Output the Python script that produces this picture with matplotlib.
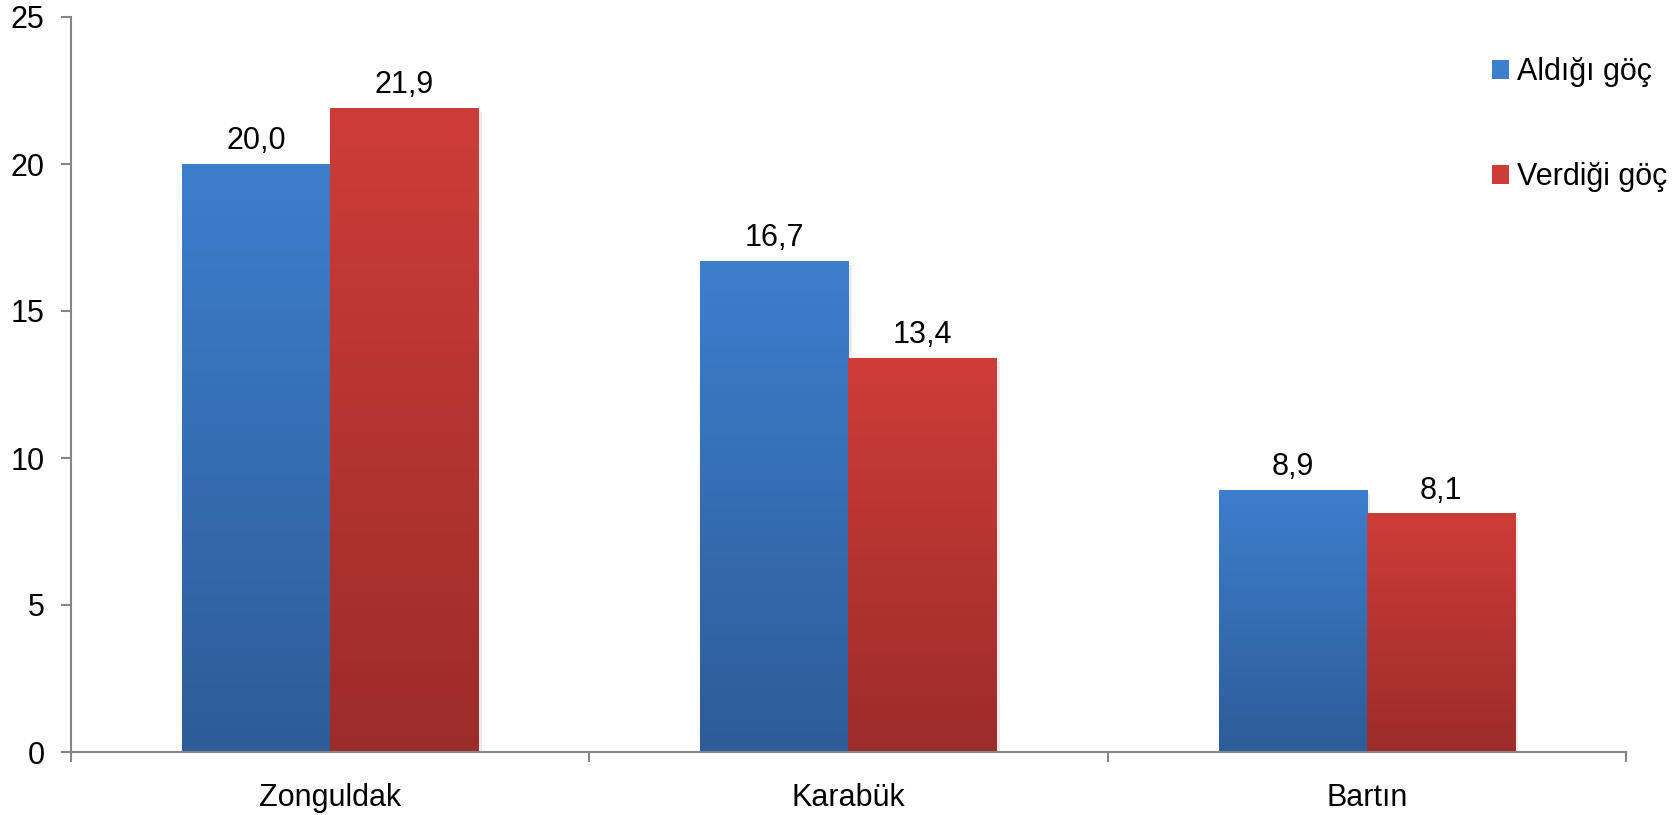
import numpy as np
import matplotlib.pyplot as plt
from matplotlib.patches import Patch
from matplotlib.colors import to_rgb

plt.rcParams['font.family'] = ['Liberation Sans', 'DejaVu Sans']

# data
cities = ['Zonguldak', 'Karabük', 'Bartın']
aldigi = [20.0, 16.7, 8.9]
verdigi = [21.9, 13.4, 8.1]
series_names = ['Aldığı göç', 'Verdiği göç']

# gradient colours (top, bottom)
blue_top, blue_bot = '#3d7ecd', '#2d5c98'
red_top, red_bot = '#ce3c38', '#9c2c2a'

fs = 22

fig = plt.figure(figsize=(16.81, 8.15), dpi=100)
ax = fig.add_axes([71/1681, 1 - 752/815, (1626 - 71)/1681, (752 - 17)/815])

x = np.arange(len(cities))
w = 0.286
b1 = ax.bar(x - w/2, aldigi, w, color='none', edgecolor='none')
b2 = ax.bar(x + w/2, verdigi, w, color='none', edgecolor='none')


def grad(top, bot):
    t = np.linspace(0, 1, 256)[:, None]
    c0 = np.array(to_rgb(bot))
    c1 = np.array(to_rgb(top))
    return (c0 + (c1 - c0) * t).reshape(256, 1, 3)


for bars, top, bot in [(b1, blue_top, blue_bot), (b2, red_top, red_bot)]:
    g = grad(top, bot)
    for r in bars:
        x0, h, bw = r.get_x(), r.get_height(), r.get_width()
        # soft shadow
        ax.add_patch(plt.Rectangle((x0 + 0.006, -0.12), bw, h, color='#000000',
                                   alpha=0.08, zorder=1, lw=0))
        ax.imshow(g, extent=[x0, x0 + bw, 0, h], origin='lower',
                  aspect='auto', zorder=2)

for bars, vals in [(b1, aldigi), (b2, verdigi)]:
    for r, v in zip(bars, vals):
        ax.annotate(f'{v:.1f}'.replace('.', ','),
                    (r.get_x() + r.get_width()/2, r.get_height()),
                    xytext=(0, 11), textcoords='offset points',
                    ha='center', va='baseline', fontsize=fs)

ax.set_xlim(-0.5, len(cities) - 0.5)
ax.set_ylim(0, 25)
ax.set_yticks([0, 5, 10, 15, 20, 25])
ax.set_xticks(x)
ax.set_xticklabels(cities)
ax.set_xticks(np.arange(len(cities) + 1) - 0.5, minor=True)

for s in ['top', 'right']:
    ax.spines[s].set_visible(False)
for s in ['left', 'bottom']:
    ax.spines[s].set_color('#868686')
    ax.spines[s].set_linewidth(1.5)

ax.tick_params(axis='y', length=7, width=1.5, color='#868686', labelsize=fs, pad=12)
ax.tick_params(axis='x', which='major', length=0, labelsize=fs, pad=22)
ax.tick_params(axis='x', which='minor', length=7, width=1.5, color='#868686')

handles = [Patch(facecolor=blue_top, edgecolor='none'),
           Patch(facecolor=red_top, edgecolor='none')]
fig.legend(handles, series_names, loc='upper left',
           bbox_to_anchor=(1477/1681, 1 - 42/815), frameon=False,
           fontsize=fs, handlelength=0.55, handleheight=0.55,
           handletextpad=0.25, labelspacing=2.45, borderpad=0)

fig.savefig('out.png', dpi=100)
